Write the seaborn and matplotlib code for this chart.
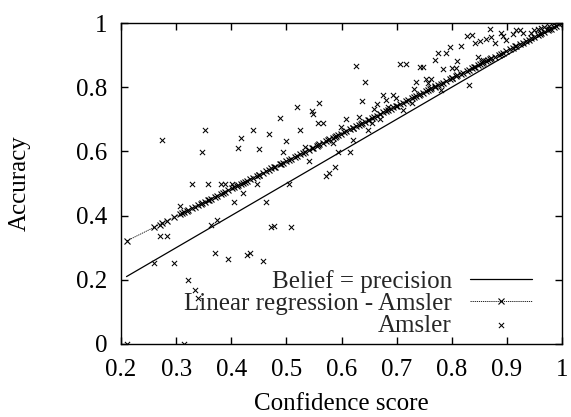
import numpy as np
import pandas as pd
import matplotlib
matplotlib.use("Agg")
import matplotlib.pyplot as plt
import seaborn as sns
from matplotlib.ticker import FixedLocator, FuncFormatter

# ---------------- data ----------------
amsler_conf = [
    0.211, 0.314, 0.260, 0.297, 0.270, 0.283, 0.275, 0.307, 0.329, 0.322, 0.335, 0.340,
    0.370, 0.395, 0.428, 0.434, 0.457,
    0.352, 0.347, 0.417, 0.412, 0.440, 0.451, 0.468, 0.488, 0.499, 0.494, 0.520, 0.525,
    0.546, 0.549, 0.560, 0.557, 0.534, 0.541,
    0.358, 0.381, 0.389, 0.401, 0.446, 0.504,
    0.422, 0.405, 0.463, 0.364, 0.375, 0.473, 0.478, 0.509,
    0.626, 0.643, 0.637, 0.664, 0.659, 0.609, 0.631, 0.599, 0.655, 0.648, 0.567,
    0.621, 0.584, 0.594, 0.615, 0.588, 0.578, 0.572,
    0.869, 0.827, 0.836, 0.842, 0.851, 0.862, 0.872, 0.878, 0.889, 0.893, 0.899,
    0.911, 0.917, 0.923, 0.929, 0.944, 0.950, 0.956, 0.962, 0.968, 0.977, 0.986,
    0.796, 0.790, 0.775, 0.769, 0.816, 0.810, 0.706, 0.717, 0.742, 0.748,
    0.784, 0.801, 0.807, 0.848, 0.857, 0.736, 0.753, 0.763, 0.732, 0.757,
    0.831, 0.780, 0.676, 0.694, 0.698, 0.681, 0.685, 0.711, 0.727, 0.669,
]
amsler_acc = [
    0.000, 0.000, 0.251, 0.251, 0.335, 0.335, 0.637, 0.430, 0.500, 0.200, 0.168, 0.143,
    0.282, 0.265, 0.277, 0.284, 0.259,
    0.667, 0.599, 0.642, 0.610, 0.667, 0.607, 0.653, 0.705, 0.632, 0.599, 0.739, 0.667,
    0.727, 0.716, 0.750, 0.688, 0.615, 0.571,
    0.498, 0.498, 0.498, 0.498, 0.498, 0.498,
    0.469, 0.443, 0.443, 0.371, 0.386, 0.365, 0.367, 0.363,
    0.865, 0.816, 0.757, 0.747, 0.731, 0.702, 0.708, 0.677, 0.688, 0.667, 0.688,
    0.636, 0.627, 0.599, 0.599, 0.552, 0.534, 0.524,
    0.981, 0.959, 0.963, 0.938, 0.944, 0.949, 0.957, 0.937, 0.968, 0.959, 0.947,
    0.966, 0.977, 0.977, 0.968, 0.968, 0.979, 0.981, 0.984, 0.987, 0.991, 1.000,
    0.926, 0.908, 0.905, 0.884, 0.928, 0.882, 0.873, 0.873, 0.862, 0.862,
    0.857, 0.859, 0.859, 0.893, 0.886, 0.816, 0.825, 0.827, 0.793, 0.814,
    0.806, 0.790, 0.776, 0.776, 0.766, 0.760, 0.737, 0.729, 0.750, 0.702,
]

# further confidence values at which the regression curve carries a marker
# (data points hidden under the regression line)
reg_extra_conf = [
    0.310, 0.320, 0.345, 0.360, 0.385, 0.410, 0.425, 0.450, 0.480, 0.490, 0.515,
    0.530, 0.555, 0.575, 0.590, 0.605, 0.620, 0.635, 0.650, 0.670, 0.690, 0.700,
    0.720, 0.740, 0.760, 0.770, 0.790, 0.800, 0.820, 0.840, 0.855, 0.865, 0.885,
    0.905, 0.915, 0.935, 0.940, 0.960, 0.975, 0.980, 0.990, 0.995, 1.000,
]

# belief = precision reference line
identity_conf = [0.21, 1.0]
identity_acc = [0.21, 1.0]

# linear regression fit (accuracy = a + b * confidence)
reg_intercept = 0.14
reg_slope = 0.86

x_ticks = [0.2, 0.3, 0.4, 0.5, 0.6, 0.7, 0.8, 0.9, 1.0]
y_ticks = [0.0, 0.2, 0.4, 0.6, 0.8, 1.0]

series_labels = ["Belief = precision", "Linear regression - Amsler", "Amsler"]
x_label = "Confidence score"
y_label = "Accuracy"

# ---------------- plot ----------------
sns.set_theme(style="ticks")
plt.rcParams["font.family"] = ["Liberation Serif", "DejaVu Serif"]
plt.rcParams["axes.linewidth"] = 1.0
FS = 18

scatter_df = pd.DataFrame({"conf": amsler_conf, "acc": amsler_acc})
reg_x = np.sort(np.unique(np.concatenate([amsler_conf, reg_extra_conf])))
reg_df = pd.DataFrame({"conf": reg_x, "acc": reg_intercept + reg_slope * reg_x})
id_df = pd.DataFrame({"conf": identity_conf, "acc": identity_acc})

fig = plt.figure(figsize=(5.71, 4.17), dpi=100)
ax = fig.add_axes([121 / 571, 1 - 344 / 417, 441 / 571, 321 / 417])

sns.lineplot(data=id_df, x="conf", y="acc", ax=ax, color="black", linewidth=0.9,
             estimator=None, label=series_labels[0])
sns.lineplot(data=reg_df, x="conf", y="acc", ax=ax, color="black", linewidth=0.6,
             linestyle=(0, (1.5, 1.0)), marker="x", markersize=3.8, markeredgewidth=0.8,
             markeredgecolor="black", markerfacecolor="black",
             estimator=None, label=series_labels[1])
sns.scatterplot(data=scatter_df, x="conf", y="acc", ax=ax, color="black", marker="x",
                s=14, linewidth=0.75, label=series_labels[2])

ax.set_xlim(0.2, 1.0)
ax.set_ylim(0.0, 1.0)
ax.xaxis.set_major_locator(FixedLocator(x_ticks))
ax.yaxis.set_major_locator(FixedLocator(y_ticks))
fmt = FuncFormatter(lambda v, p: "%g" % v)
ax.xaxis.set_major_formatter(fmt)
ax.yaxis.set_major_formatter(fmt)
ax.tick_params(direction="in", length=5, width=1, top=True, right=True,
               labelsize=FS, colors="black")
ax.tick_params(axis="x", pad=11)
ax.tick_params(axis="y", pad=10)
for s in ax.spines.values():
    s.set_visible(True)
    s.set_color("black")
    s.set_linewidth(1.0)

ax.set_xlabel(x_label, fontsize=FS, color="black")
ax.set_ylabel(y_label, fontsize=FS, color="black")
ax.yaxis.set_label_coords(-0.205, 0.5)
ax.xaxis.set_label_coords(0.5, -0.152)

leg = ax.legend(loc="lower right", bbox_to_anchor=((532 - 121) / 441, (344 - 337) / 321),
                frameon=False, markerfirst=False, fontsize=FS, handlelength=2.5,
                handletextpad=0.7, labelspacing=-0.02, borderpad=0, borderaxespad=0,
                numpoints=1, scatterpoints=1)
for t in leg.get_texts():
    t.set_ha("right")

fig.savefig("out.png", dpi=100)
